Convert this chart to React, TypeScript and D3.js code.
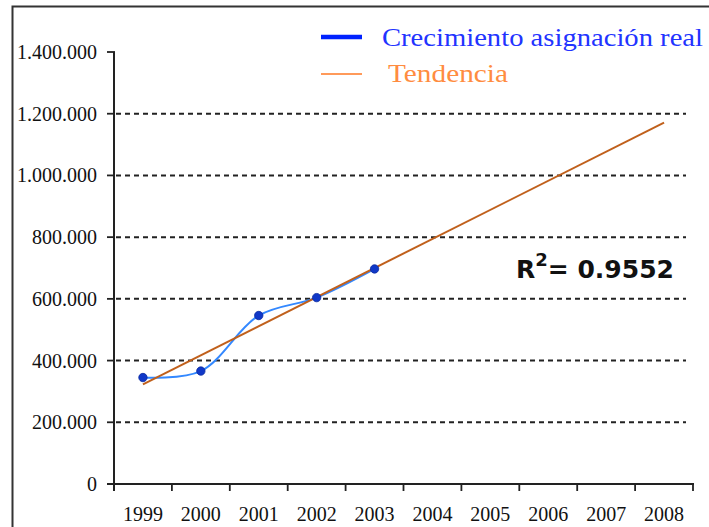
import React from "react";
import * as d3 from "d3";

const years = ["1999", "2000", "2001", "2002", "2003", "2004", "2005", "2006", "2007", "2008"];
const realValues = [345000, 366000, 546000, 604000, 697000];
const yTicks = [0, 200000, 400000, 600000, 800000, 1000000, 1200000, 1400000];
const legendLabels = ["Crecimiento asignación real", "Tendencia"];
const r2Label = "0.9552";

const W = 709;
const H = 527;

export default function App() {
  const x = d3.scaleBand<string>().domain(years).range([114, 693]).paddingInner(0).paddingOuter(0);
  const cx = (i: number) => (x(years[i]) as number) + x.bandwidth() / 2;
  const y = d3.scaleLinear().domain([0, 1400000]).range([484, 52]);
  const locale = d3.formatLocale({ decimal: ",", thousands: ".", grouping: [3], currency: ["", ""] });
  const fmt = locale.format(",d");

  // linear regression for trend
  const mx = d3.mean(realValues.map((_, i) => i)) as number;
  const my = d3.mean(realValues) as number;
  let sxy = 0, sxx = 0;
  realValues.forEach((v, i) => { sxy += (i - mx) * (v - my); sxx += (i - mx) * (i - mx); });
  const slope = sxy / sxx;
  const icpt = my - slope * mx;
  const trendPts: [number, number][] = [0, years.length - 1].map((i) => [cx(i), y(icpt + slope * i)]);

  const realPts: [number, number][] = realValues.map((v, i) => [cx(i), y(v)]);
  const smooth = d3.line().curve(d3.curveCatmullRom.alpha(0.5))(realPts) || "";
  const trend = d3.line()(trendPts) || "";

  const serif = "'Liberation Serif', 'Times New Roman', serif";

  return (
    <svg width={W} height={H} style={{ position: "fixed", left: 0, top: 0, background: "#fff" }}>
      <rect x={0} y={0} width={W} height={H} fill="#fff" />
      {/* outer frame */}
      <rect x={12.5} y={6.5} width={720} height={540} fill="none" stroke="#333" strokeWidth={2} />

      {/* gridlines */}
      {yTicks.filter((t) => t > 0 && t < 1400000).map((t) => (
        <line key={"g" + t} x1={116} x2={686} y1={y(t)} y2={y(t)} stroke="#222" strokeWidth={2} strokeDasharray="5,4" />
      ))}

      {/* y axis */}
      <line x1={114} x2={114} y1={y(1400000)} y2={491} stroke="#222" strokeWidth={2} />
      {yTicks.map((t) => (
        <g key={"t" + t}>
          <line x1={107} x2={115} y1={y(t)} y2={y(t)} stroke="#222" strokeWidth={1.8} />
          <text x={97} y={y(t)} dy="0.35em" textAnchor="end" fontFamily={serif} fontSize={20} fill="#111">
            {fmt(t)}
          </text>
        </g>
      ))}

      {/* x axis */}
      <line x1={107} x2={694} y1={y(0)} y2={y(0)} stroke="#222" strokeWidth={2} />
      {years.map((yr) => (
        <line key={"xt" + yr} x1={(x(yr) as number) + x.bandwidth()} x2={(x(yr) as number) + x.bandwidth()} y1={y(0)} y2={y(0) + 7} stroke="#222" strokeWidth={1.8} />
      ))}
      {years.map((yr, i) => (
        <text key={"xl" + yr} x={cx(i)} y={521} textAnchor="middle" fontFamily={serif} fontSize={20} fill="#111">
          {yr}
        </text>
      ))}

      {/* series */}
      <path d={smooth} fill="none" stroke="#3388ff" strokeWidth={2} />
      <path d={trend} fill="none" stroke="#c0601c" strokeWidth={2} />
      {realPts.map((p, i) => (
        <circle key={"m" + i} cx={p[0]} cy={p[1]} r={4.2} fill="#1038c8" stroke="#0a2aa0" strokeWidth={0.8} />
      ))}

      {/* legend */}
      <line x1={321} x2={362} y1={37} y2={37} stroke="#0022ff" strokeWidth={4.5} />
      <text x={382} y={46} fontFamily={serif} fontSize={26} fill="#2233ff" textLength={321} lengthAdjust="spacingAndGlyphs">
        {legendLabels[0]}
      </text>
      <line x1={321} x2={362} y1={74} y2={74} stroke="#ff9a5a" strokeWidth={2} />
      <text x={388} y={82} fontFamily={serif} fontSize={26} fill="#ff8c40" textLength={120} lengthAdjust="spacingAndGlyphs">
        {legendLabels[1]}
      </text>

      {/* R squared */}
      <text x={516} y={278} fontFamily="'DejaVu Sans', Verdana, sans-serif" fontWeight="bold" fontSize={25} fill="#111">
        R<tspan dy={-12} fontSize={18}>2</tspan><tspan dy={12}>= {r2Label}</tspan>
      </text>
    </svg>
  );
}
